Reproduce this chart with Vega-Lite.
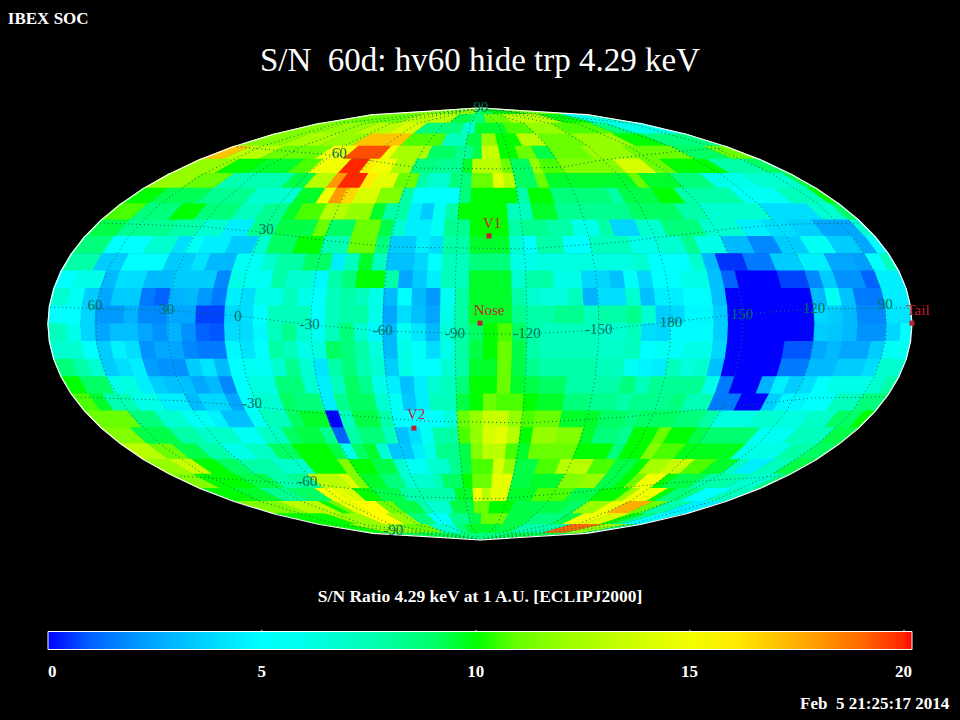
{"$schema":"https://vega.github.io/schema/vega-lite/v6.json","width":864,"height":432,"autosize":{"type":"none"},"padding":{"left":48,"top":108,"right":48,"bottom":180},"background":"#000000","view":{"stroke":null,"fill":null},"projection":{"type":"identity","reflectY":true,"scale":432,"translate":[432,216]},"datasets":{"edges":[{"lat":0,"s":0,"c":1},{"lat":6,"s":0.0821,"c":0.9966},{"lat":12,"s":0.1638,"c":0.9865},{"lat":18,"s":0.2449,"c":0.9695},{"lat":24,"s":0.325,"c":0.9457},{"lat":30,"s":0.404,"c":0.9148},{"lat":36,"s":0.4812,"c":0.8766},{"lat":42,"s":0.556,"c":0.8312},{"lat":48,"s":0.6281,"c":0.7781},{"lat":54,"s":0.6958,"c":0.7182},{"lat":60,"s":0.7624,"c":0.6471},{"lat":66,"s":0.822,"c":0.5694},{"lat":72,"s":0.8795,"c":0.4759},{"lat":78,"s":0.9284,"c":0.3716},{"lat":84,"s":0.969,"c":0.247},{"lat":90,"s":1,"c":0}]},"layer":[{"data":{"values":[
{"lat":87,"lon0":-180,"lon1":-60,"sn":11.5},{"lat":87,"lon0":-60,"lon1":-12,"sn":12},{"lat":87,"lon0":-12,"lon1":0,"sn":8.7},{"lat":87,"lon0":0,"lon1":30,"sn":9.5},{"lat":87,"lon0":30,"lon1":90,"sn":10},{"lat":87,"lon0":90,"lon1":180,"sn":11},
{"lat":81,"lon0":-180,"lon1":-96,"sn":11},{"lat":81,"lon0":-96,"lon1":-36,"sn":13},{"lat":81,"lon0":-36,"lon1":-12,"sn":9.5},{"lat":81,"lon0":-12,"lon1":6,"sn":8.7},{"lat":81,"lon0":6,"lon1":36,"sn":11},{"lat":81,"lon0":36,"lon1":96,"sn":13},{"lat":81,"lon0":96,"lon1":132,"sn":10},{"lat":81,"lon0":132,"lon1":168,"sn":6},{"lat":81,"lon0":168,"lon1":180,"sn":7.8},
{"lat":75,"lon0":-180,"lon1":-150,"sn":11.5},{"lat":75,"lon0":-150,"lon1":-114,"sn":12},{"lat":75,"lon0":-114,"lon1":-84,"sn":13},{"lat":75,"lon0":-84,"lon1":-60,"sn":14},{"lat":75,"lon0":-60,"lon1":-18,"sn":8.7},{"lat":75,"lon0":-18,"lon1":-6,"sn":6.8},{"lat":75,"lon0":-6,"lon1":24,"sn":9.8},{"lat":75,"lon0":24,"lon1":48,"sn":10.5},{"lat":75,"lon0":48,"lon1":78,"sn":12},{"lat":75,"lon0":78,"lon1":120,"sn":10.5},{"lat":75,"lon0":120,"lon1":138,"sn":8.7},{"lat":75,"lon0":138,"lon1":180,"sn":6},
{"lat":69,"lon0":-180,"lon1":-150,"sn":11.5},{"lat":69,"lon0":-150,"lon1":-120,"sn":12.5},{"lat":69,"lon0":-120,"lon1":-96,"sn":12},{"lat":69,"lon0":-96,"lon1":-60,"sn":17},{"lat":69,"lon0":-60,"lon1":-30,"sn":10.5},{"lat":69,"lon0":-30,"lon1":-12,"sn":7.3},{"lat":69,"lon0":-12,"lon1":0,"sn":9.5},{"lat":69,"lon0":0,"lon1":12,"sn":12},{"lat":69,"lon0":12,"lon1":30,"sn":10},{"lat":69,"lon0":30,"lon1":48,"sn":13},{"lat":69,"lon0":48,"lon1":78,"sn":11},{"lat":69,"lon0":78,"lon1":114,"sn":12},{"lat":69,"lon0":114,"lon1":138,"sn":10},{"lat":69,"lon0":138,"lon1":180,"sn":8.7},
{"lat":63,"lon0":-180,"lon1":-168,"sn":17},{"lat":63,"lon0":-168,"lon1":-144,"sn":13},{"lat":63,"lon0":-144,"lon1":-108,"sn":11},{"lat":63,"lon0":-108,"lon1":-90,"sn":15},{"lat":63,"lon0":-90,"lon1":-66,"sn":19.5},{"lat":63,"lon0":-66,"lon1":-60,"sn":15},{"lat":63,"lon0":-60,"lon1":-36,"sn":12.5},{"lat":63,"lon0":-36,"lon1":-18,"sn":9.1},{"lat":63,"lon0":-18,"lon1":-6,"sn":8.3},{"lat":63,"lon0":-6,"lon1":0,"sn":9.5},{"lat":63,"lon0":0,"lon1":12,"sn":13.5},{"lat":63,"lon0":12,"lon1":24,"sn":10},{"lat":63,"lon0":24,"lon1":36,"sn":11},{"lat":63,"lon0":36,"lon1":48,"sn":9.5},{"lat":63,"lon0":48,"lon1":72,"sn":11},{"lat":63,"lon0":72,"lon1":102,"sn":12},{"lat":63,"lon0":102,"lon1":138,"sn":11},{"lat":63,"lon0":138,"lon1":162,"sn":9.1},{"lat":63,"lon0":162,"lon1":180,"sn":11},
{"lat":57,"lon0":-180,"lon1":-156,"sn":12},{"lat":57,"lon0":-156,"lon1":-138,"sn":10},{"lat":57,"lon0":-138,"lon1":-114,"sn":9.8},{"lat":57,"lon0":-114,"lon1":-102,"sn":10.5},{"lat":57,"lon0":-102,"lon1":-84,"sn":15},{"lat":57,"lon0":-84,"lon1":-72,"sn":20},{"lat":57,"lon0":-72,"lon1":-66,"sn":16},{"lat":57,"lon0":-66,"lon1":-54,"sn":15},{"lat":57,"lon0":-54,"lon1":-42,"sn":12.5},{"lat":57,"lon0":-42,"lon1":-30,"sn":8.7},{"lat":57,"lon0":-30,"lon1":-12,"sn":8.3},{"lat":57,"lon0":-12,"lon1":-6,"sn":9.8},{"lat":57,"lon0":-6,"lon1":12,"sn":13},{"lat":57,"lon0":12,"lon1":18,"sn":11},{"lat":57,"lon0":18,"lon1":30,"sn":9.1},{"lat":57,"lon0":30,"lon1":36,"sn":12},{"lat":57,"lon0":36,"lon1":48,"sn":10.5},{"lat":57,"lon0":48,"lon1":84,"sn":11.5},{"lat":57,"lon0":84,"lon1":102,"sn":14},{"lat":57,"lon0":102,"lon1":114,"sn":11},{"lat":57,"lon0":114,"lon1":144,"sn":10},{"lat":57,"lon0":144,"lon1":168,"sn":7.8},{"lat":57,"lon0":168,"lon1":180,"sn":9.1},
{"lat":51,"lon0":-180,"lon1":-162,"sn":12},{"lat":51,"lon0":-162,"lon1":-144,"sn":11},{"lat":51,"lon0":-144,"lon1":-108,"sn":7.6},{"lat":51,"lon0":-108,"lon1":-96,"sn":9.5},{"lat":51,"lon0":-96,"lon1":-84,"sn":13},{"lat":51,"lon0":-84,"lon1":-78,"sn":18},{"lat":51,"lon0":-78,"lon1":-66,"sn":20},{"lat":51,"lon0":-66,"lon1":-60,"sn":16},{"lat":51,"lon0":-60,"lon1":-48,"sn":14.5},{"lat":51,"lon0":-48,"lon1":-36,"sn":11},{"lat":51,"lon0":-36,"lon1":-30,"sn":7.8},{"lat":51,"lon0":-30,"lon1":-18,"sn":6.8},{"lat":51,"lon0":-18,"lon1":-6,"sn":8.7},{"lat":51,"lon0":-6,"lon1":6,"sn":11},{"lat":51,"lon0":6,"lon1":12,"sn":14.5},{"lat":51,"lon0":12,"lon1":18,"sn":13},{"lat":51,"lon0":18,"lon1":30,"sn":9.1},{"lat":51,"lon0":30,"lon1":36,"sn":11},{"lat":51,"lon0":36,"lon1":84,"sn":9.8},{"lat":51,"lon0":84,"lon1":90,"sn":11},{"lat":51,"lon0":90,"lon1":108,"sn":9.8},{"lat":51,"lon0":108,"lon1":126,"sn":8.7},{"lat":51,"lon0":126,"lon1":150,"sn":6},{"lat":51,"lon0":150,"lon1":174,"sn":6.8},{"lat":51,"lon0":174,"lon1":180,"sn":9.5},
{"lat":45,"lon0":-180,"lon1":-168,"sn":10},{"lat":45,"lon0":-168,"lon1":-144,"sn":9.3},{"lat":45,"lon0":-144,"lon1":-120,"sn":8.3},{"lat":45,"lon0":-120,"lon1":-96,"sn":6.8},{"lat":45,"lon0":-96,"lon1":-84,"sn":9.8},{"lat":45,"lon0":-84,"lon1":-78,"sn":15},{"lat":45,"lon0":-78,"lon1":-72,"sn":18},{"lat":45,"lon0":-72,"lon1":-66,"sn":16.5},{"lat":45,"lon0":-66,"lon1":-54,"sn":14},{"lat":45,"lon0":-54,"lon1":-42,"sn":11.5},{"lat":45,"lon0":-42,"lon1":-36,"sn":7.8},{"lat":45,"lon0":-36,"lon1":-12,"sn":5},{"lat":45,"lon0":-12,"lon1":-6,"sn":8.7},{"lat":45,"lon0":-6,"lon1":18,"sn":10},{"lat":45,"lon0":18,"lon1":24,"sn":7.8},{"lat":45,"lon0":24,"lon1":36,"sn":10},{"lat":45,"lon0":36,"lon1":66,"sn":8.7},{"lat":45,"lon0":66,"lon1":72,"sn":7.8},{"lat":45,"lon0":72,"lon1":90,"sn":9.5},{"lat":45,"lon0":90,"lon1":102,"sn":10},{"lat":45,"lon0":102,"lon1":132,"sn":7.8},{"lat":45,"lon0":132,"lon1":156,"sn":5.5},{"lat":45,"lon0":156,"lon1":174,"sn":7.3},{"lat":45,"lon0":174,"lon1":180,"sn":10},
{"lat":39,"lon0":-180,"lon1":-168,"sn":10.5},{"lat":39,"lon0":-168,"lon1":-150,"sn":8.7},{"lat":39,"lon0":-150,"lon1":-138,"sn":10},{"lat":39,"lon0":-138,"lon1":-120,"sn":8.7},{"lat":39,"lon0":-120,"lon1":-108,"sn":7.3},{"lat":39,"lon0":-108,"lon1":-96,"sn":8.3},{"lat":39,"lon0":-96,"lon1":-90,"sn":9.8},{"lat":39,"lon0":-90,"lon1":-78,"sn":10.5},{"lat":39,"lon0":-78,"lon1":-66,"sn":12.8},{"lat":39,"lon0":-66,"lon1":-54,"sn":12},{"lat":39,"lon0":-54,"lon1":-48,"sn":9.8},{"lat":39,"lon0":-48,"lon1":-36,"sn":7.8},{"lat":39,"lon0":-36,"lon1":-30,"sn":4.5},{"lat":39,"lon0":-30,"lon1":-24,"sn":3.5},{"lat":39,"lon0":-24,"lon1":-18,"sn":5.5},{"lat":39,"lon0":-18,"lon1":-12,"sn":7.8},{"lat":39,"lon0":-12,"lon1":12,"sn":10},{"lat":39,"lon0":12,"lon1":24,"sn":7.3},{"lat":39,"lon0":24,"lon1":36,"sn":9.8},{"lat":39,"lon0":36,"lon1":72,"sn":8.3},{"lat":39,"lon0":72,"lon1":96,"sn":9.1},{"lat":39,"lon0":96,"lon1":108,"sn":7.8},{"lat":39,"lon0":108,"lon1":138,"sn":6.8},{"lat":39,"lon0":138,"lon1":162,"sn":4},{"lat":39,"lon0":162,"lon1":174,"sn":6.8},{"lat":39,"lon0":174,"lon1":180,"sn":9.1},
{"lat":33,"lon0":-180,"lon1":-168,"sn":9.5},{"lat":33,"lon0":-168,"lon1":-144,"sn":8.3},{"lat":33,"lon0":-144,"lon1":-132,"sn":7.8},{"lat":33,"lon0":-132,"lon1":-120,"sn":6.8},{"lat":33,"lon0":-120,"lon1":-108,"sn":4.5},{"lat":33,"lon0":-108,"lon1":-96,"sn":8.3},{"lat":33,"lon0":-96,"lon1":-78,"sn":9.5},{"lat":33,"lon0":-78,"lon1":-72,"sn":11},{"lat":33,"lon0":-72,"lon1":-60,"sn":9.1},{"lat":33,"lon0":-60,"lon1":-48,"sn":11},{"lat":33,"lon0":-48,"lon1":-42,"sn":9.5},{"lat":33,"lon0":-42,"lon1":-36,"sn":6.8},{"lat":33,"lon0":-36,"lon1":-24,"sn":4.5},{"lat":33,"lon0":-24,"lon1":-18,"sn":5.5},{"lat":33,"lon0":-18,"lon1":-6,"sn":8.3},{"lat":33,"lon0":-6,"lon1":12,"sn":10},{"lat":33,"lon0":12,"lon1":18,"sn":7.8},{"lat":33,"lon0":18,"lon1":30,"sn":8.3},{"lat":33,"lon0":30,"lon1":42,"sn":7.8},{"lat":33,"lon0":42,"lon1":54,"sn":6},{"lat":33,"lon0":54,"lon1":60,"sn":7.8},{"lat":33,"lon0":60,"lon1":72,"sn":3.7},{"lat":33,"lon0":72,"lon1":84,"sn":6.8},{"lat":33,"lon0":84,"lon1":102,"sn":8.7},{"lat":33,"lon0":102,"lon1":120,"sn":6.8},{"lat":33,"lon0":120,"lon1":132,"sn":4.5},{"lat":33,"lon0":132,"lon1":144,"sn":4},{"lat":33,"lon0":144,"lon1":156,"sn":3.6},{"lat":33,"lon0":156,"lon1":174,"sn":2.5},{"lat":33,"lon0":174,"lon1":180,"sn":6.8},
{"lat":27,"lon0":-180,"lon1":-168,"sn":8.7},{"lat":27,"lon0":-168,"lon1":-150,"sn":5},{"lat":27,"lon0":-150,"lon1":-138,"sn":6.8},{"lat":27,"lon0":-138,"lon1":-132,"sn":4},{"lat":27,"lon0":-132,"lon1":-126,"sn":5.5},{"lat":27,"lon0":-126,"lon1":-114,"sn":4.5},{"lat":27,"lon0":-114,"lon1":-102,"sn":3.5},{"lat":27,"lon0":-102,"lon1":-96,"sn":6.8},{"lat":27,"lon0":-96,"lon1":-84,"sn":9.1},{"lat":27,"lon0":-84,"lon1":-72,"sn":10},{"lat":27,"lon0":-72,"lon1":-60,"sn":7.6},{"lat":27,"lon0":-60,"lon1":-48,"sn":11},{"lat":27,"lon0":-48,"lon1":-42,"sn":8.7},{"lat":27,"lon0":-42,"lon1":-30,"sn":3.5},{"lat":27,"lon0":-30,"lon1":-24,"sn":4.5},{"lat":27,"lon0":-24,"lon1":-18,"sn":4},{"lat":27,"lon0":-18,"lon1":-6,"sn":7.8},{"lat":27,"lon0":-6,"lon1":12,"sn":9.8},{"lat":27,"lon0":12,"lon1":18,"sn":6.8},{"lat":27,"lon0":18,"lon1":24,"sn":5},{"lat":27,"lon0":24,"lon1":36,"sn":7.8},{"lat":27,"lon0":36,"lon1":48,"sn":5},{"lat":27,"lon0":48,"lon1":66,"sn":7.3},{"lat":27,"lon0":66,"lon1":78,"sn":6},{"lat":27,"lon0":78,"lon1":90,"sn":6.8},{"lat":27,"lon0":90,"lon1":96,"sn":8.3},{"lat":27,"lon0":96,"lon1":108,"sn":6},{"lat":27,"lon0":108,"lon1":120,"sn":3},{"lat":27,"lon0":120,"lon1":132,"sn":1.8},{"lat":27,"lon0":132,"lon1":144,"sn":3.5},{"lat":27,"lon0":144,"lon1":156,"sn":5.5},{"lat":27,"lon0":156,"lon1":168,"sn":3.5},{"lat":27,"lon0":168,"lon1":174,"sn":2.5},{"lat":27,"lon0":174,"lon1":180,"sn":5},
{"lat":21,"lon0":-180,"lon1":-168,"sn":7.8},{"lat":21,"lon0":-168,"lon1":-156,"sn":3.5},{"lat":21,"lon0":-156,"lon1":-138,"sn":5},{"lat":21,"lon0":-138,"lon1":-126,"sn":3.5},{"lat":21,"lon0":-126,"lon1":-120,"sn":4.2},{"lat":21,"lon0":-120,"lon1":-108,"sn":3},{"lat":21,"lon0":-108,"lon1":-96,"sn":5.5},{"lat":21,"lon0":-96,"lon1":-90,"sn":6.8},{"lat":21,"lon0":-90,"lon1":-78,"sn":7.8},{"lat":21,"lon0":-78,"lon1":-66,"sn":9.1},{"lat":21,"lon0":-66,"lon1":-60,"sn":4.5},{"lat":21,"lon0":-60,"lon1":-54,"sn":7.3},{"lat":21,"lon0":-54,"lon1":-48,"sn":9.8},{"lat":21,"lon0":-48,"lon1":-42,"sn":7.3},{"lat":21,"lon0":-42,"lon1":-30,"sn":3.2},{"lat":21,"lon0":-30,"lon1":-24,"sn":3.8},{"lat":21,"lon0":-24,"lon1":-18,"sn":5},{"lat":21,"lon0":-18,"lon1":-6,"sn":7.3},{"lat":21,"lon0":-6,"lon1":12,"sn":8.7},{"lat":21,"lon0":12,"lon1":24,"sn":6},{"lat":21,"lon0":24,"lon1":66,"sn":6.3},{"lat":21,"lon0":66,"lon1":72,"sn":6.8},{"lat":21,"lon0":72,"lon1":90,"sn":5},{"lat":21,"lon0":90,"lon1":96,"sn":6.8},{"lat":21,"lon0":96,"lon1":102,"sn":3},{"lat":21,"lon0":102,"lon1":114,"sn":0.3},{"lat":21,"lon0":114,"lon1":126,"sn":1.5},{"lat":21,"lon0":126,"lon1":138,"sn":3.5},{"lat":21,"lon0":138,"lon1":150,"sn":4.5},{"lat":21,"lon0":150,"lon1":162,"sn":2.5},{"lat":21,"lon0":162,"lon1":168,"sn":2.3},{"lat":21,"lon0":168,"lon1":174,"sn":5},{"lat":21,"lon0":174,"lon1":180,"sn":7.3},
{"lat":15,"lon0":-180,"lon1":-174,"sn":5},{"lat":15,"lon0":-174,"lon1":-162,"sn":6},{"lat":15,"lon0":-162,"lon1":-156,"sn":3},{"lat":15,"lon0":-156,"lon1":-144,"sn":4},{"lat":15,"lon0":-144,"lon1":-132,"sn":3},{"lat":15,"lon0":-132,"lon1":-114,"sn":3.5},{"lat":15,"lon0":-114,"lon1":-108,"sn":1.8},{"lat":15,"lon0":-108,"lon1":-102,"sn":6},{"lat":15,"lon0":-102,"lon1":-90,"sn":5.5},{"lat":15,"lon0":-90,"lon1":-84,"sn":7.8},{"lat":15,"lon0":-84,"lon1":-72,"sn":6.8},{"lat":15,"lon0":-72,"lon1":-66,"sn":4.8},{"lat":15,"lon0":-66,"lon1":-60,"sn":7.8},{"lat":15,"lon0":-60,"lon1":-54,"sn":8.7},{"lat":15,"lon0":-54,"lon1":-42,"sn":10},{"lat":15,"lon0":-42,"lon1":-36,"sn":7.8},{"lat":15,"lon0":-36,"lon1":-30,"sn":2.5},{"lat":15,"lon0":-30,"lon1":-24,"sn":3.5},{"lat":15,"lon0":-24,"lon1":-18,"sn":4.5},{"lat":15,"lon0":-18,"lon1":-6,"sn":7.3},{"lat":15,"lon0":-6,"lon1":12,"sn":9.8},{"lat":15,"lon0":12,"lon1":18,"sn":6.8},{"lat":15,"lon0":18,"lon1":30,"sn":7.8},{"lat":15,"lon0":30,"lon1":42,"sn":6},{"lat":15,"lon0":42,"lon1":54,"sn":3.8},{"lat":15,"lon0":54,"lon1":60,"sn":3.2},{"lat":15,"lon0":60,"lon1":66,"sn":5.3},{"lat":15,"lon0":66,"lon1":72,"sn":3.7},{"lat":15,"lon0":72,"lon1":84,"sn":5},{"lat":15,"lon0":84,"lon1":96,"sn":6},{"lat":15,"lon0":96,"lon1":102,"sn":3.2},{"lat":15,"lon0":102,"lon1":108,"sn":1},{"lat":15,"lon0":108,"lon1":126,"sn":0},{"lat":15,"lon0":126,"lon1":138,"sn":0.5},{"lat":15,"lon0":138,"lon1":144,"sn":1.8},{"lat":15,"lon0":144,"lon1":150,"sn":3.5},{"lat":15,"lon0":150,"lon1":162,"sn":2},{"lat":15,"lon0":162,"lon1":168,"sn":1},{"lat":15,"lon0":168,"lon1":180,"sn":4.5},
{"lat":9,"lon0":-180,"lon1":-174,"sn":6.8},{"lat":9,"lon0":-174,"lon1":-168,"sn":5.5},{"lat":9,"lon0":-168,"lon1":-162,"sn":3.5},{"lat":9,"lon0":-162,"lon1":-156,"sn":2.5},{"lat":9,"lon0":-156,"lon1":-144,"sn":3.5},{"lat":9,"lon0":-144,"lon1":-138,"sn":1.5},{"lat":9,"lon0":-138,"lon1":-132,"sn":1},{"lat":9,"lon0":-132,"lon1":-126,"sn":2.8},{"lat":9,"lon0":-126,"lon1":-120,"sn":3},{"lat":9,"lon0":-120,"lon1":-114,"sn":2.2},{"lat":9,"lon0":-114,"lon1":-108,"sn":1.5},{"lat":9,"lon0":-108,"lon1":-102,"sn":4.5},{"lat":9,"lon0":-102,"lon1":-96,"sn":4},{"lat":9,"lon0":-96,"lon1":-84,"sn":6},{"lat":9,"lon0":-84,"lon1":-78,"sn":7.3},{"lat":9,"lon0":-78,"lon1":-72,"sn":6},{"lat":9,"lon0":-72,"lon1":-66,"sn":5},{"lat":9,"lon0":-66,"lon1":-60,"sn":7.3},{"lat":9,"lon0":-60,"lon1":-54,"sn":7.8},{"lat":9,"lon0":-54,"lon1":-48,"sn":7.3},{"lat":9,"lon0":-48,"lon1":-42,"sn":6},{"lat":9,"lon0":-42,"lon1":-36,"sn":3},{"lat":9,"lon0":-36,"lon1":-30,"sn":5},{"lat":9,"lon0":-30,"lon1":-24,"sn":3},{"lat":9,"lon0":-24,"lon1":-18,"sn":2.2},{"lat":9,"lon0":-18,"lon1":-12,"sn":5.5},{"lat":9,"lon0":-12,"lon1":-6,"sn":7.8},{"lat":9,"lon0":-6,"lon1":12,"sn":9.8},{"lat":9,"lon0":12,"lon1":18,"sn":7.8},{"lat":9,"lon0":18,"lon1":24,"sn":6.8},{"lat":9,"lon0":24,"lon1":36,"sn":6.5},{"lat":9,"lon0":36,"lon1":42,"sn":7.3},{"lat":9,"lon0":42,"lon1":48,"sn":2.8},{"lat":9,"lon0":48,"lon1":60,"sn":4},{"lat":9,"lon0":60,"lon1":66,"sn":6.8},{"lat":9,"lon0":66,"lon1":72,"sn":3.2},{"lat":9,"lon0":72,"lon1":84,"sn":4.5},{"lat":9,"lon0":84,"lon1":96,"sn":5},{"lat":9,"lon0":96,"lon1":102,"sn":3.2},{"lat":9,"lon0":102,"lon1":138,"sn":0},{"lat":9,"lon0":138,"lon1":144,"sn":3},{"lat":9,"lon0":144,"lon1":150,"sn":5.5},{"lat":9,"lon0":150,"lon1":156,"sn":3.2},{"lat":9,"lon0":156,"lon1":168,"sn":1.5},{"lat":9,"lon0":168,"lon1":180,"sn":4.5},
{"lat":3,"lon0":-180,"lon1":-168,"sn":5},{"lat":3,"lon0":-168,"lon1":-162,"sn":3.8},{"lat":3,"lon0":-162,"lon1":-150,"sn":2.2},{"lat":3,"lon0":-150,"lon1":-144,"sn":2.8},{"lat":3,"lon0":-144,"lon1":-132,"sn":1.8},{"lat":3,"lon0":-132,"lon1":-120,"sn":2.5},{"lat":3,"lon0":-120,"lon1":-108,"sn":0.5},{"lat":3,"lon0":-108,"lon1":-102,"sn":3.8},{"lat":3,"lon0":-102,"lon1":-96,"sn":4},{"lat":3,"lon0":-96,"lon1":-90,"sn":5},{"lat":3,"lon0":-90,"lon1":-72,"sn":7.3},{"lat":3,"lon0":-72,"lon1":-66,"sn":5},{"lat":3,"lon0":-66,"lon1":-60,"sn":7.3},{"lat":3,"lon0":-60,"lon1":-48,"sn":7.8},{"lat":3,"lon0":-48,"lon1":-42,"sn":6},{"lat":3,"lon0":-42,"lon1":-36,"sn":2.5},{"lat":3,"lon0":-36,"lon1":-30,"sn":4},{"lat":3,"lon0":-30,"lon1":-24,"sn":3.2},{"lat":3,"lon0":-24,"lon1":-18,"sn":2.5},{"lat":3,"lon0":-18,"lon1":-12,"sn":6},{"lat":3,"lon0":-12,"lon1":-6,"sn":7.8},{"lat":3,"lon0":-6,"lon1":12,"sn":9.8},{"lat":3,"lon0":12,"lon1":18,"sn":8.3},{"lat":3,"lon0":18,"lon1":30,"sn":7.8},{"lat":3,"lon0":30,"lon1":42,"sn":8.3},{"lat":3,"lon0":42,"lon1":48,"sn":7.3},{"lat":3,"lon0":48,"lon1":60,"sn":7.8},{"lat":3,"lon0":60,"lon1":66,"sn":8.3},{"lat":3,"lon0":66,"lon1":72,"sn":6.8},{"lat":3,"lon0":72,"lon1":78,"sn":3.5},{"lat":3,"lon0":78,"lon1":84,"sn":3.8},{"lat":3,"lon0":84,"lon1":96,"sn":4.8},{"lat":3,"lon0":96,"lon1":102,"sn":3.5},{"lat":3,"lon0":102,"lon1":138,"sn":0},{"lat":3,"lon0":138,"lon1":144,"sn":3.8},{"lat":3,"lon0":144,"lon1":150,"sn":3.5},{"lat":3,"lon0":150,"lon1":156,"sn":3},{"lat":3,"lon0":156,"lon1":168,"sn":1.8},{"lat":3,"lon0":168,"lon1":180,"sn":4.2},
{"lat":-3,"lon0":-180,"lon1":-174,"sn":7.3},{"lat":-3,"lon0":-174,"lon1":-168,"sn":6},{"lat":-3,"lon0":-168,"lon1":-162,"sn":3.8},{"lat":-3,"lon0":-162,"lon1":-156,"sn":2.5},{"lat":-3,"lon0":-156,"lon1":-144,"sn":3.1},{"lat":-3,"lon0":-144,"lon1":-138,"sn":2.5},{"lat":-3,"lon0":-138,"lon1":-132,"sn":2},{"lat":-3,"lon0":-132,"lon1":-126,"sn":2.8},{"lat":-3,"lon0":-126,"lon1":-120,"sn":2},{"lat":-3,"lon0":-120,"lon1":-114,"sn":1},{"lat":-3,"lon0":-114,"lon1":-108,"sn":0.8},{"lat":-3,"lon0":-108,"lon1":-96,"sn":3.9},{"lat":-3,"lon0":-96,"lon1":-90,"sn":4.8},{"lat":-3,"lon0":-90,"lon1":-84,"sn":7.3},{"lat":-3,"lon0":-84,"lon1":-78,"sn":8.3},{"lat":-3,"lon0":-78,"lon1":-72,"sn":6.8},{"lat":-3,"lon0":-72,"lon1":-66,"sn":5.6},{"lat":-3,"lon0":-66,"lon1":-60,"sn":7.3},{"lat":-3,"lon0":-60,"lon1":-54,"sn":8.7},{"lat":-3,"lon0":-54,"lon1":-48,"sn":6.8},{"lat":-3,"lon0":-48,"lon1":-42,"sn":4.8},{"lat":-3,"lon0":-42,"lon1":-36,"sn":3},{"lat":-3,"lon0":-36,"lon1":-30,"sn":5.5},{"lat":-3,"lon0":-30,"lon1":-24,"sn":4.3},{"lat":-3,"lon0":-24,"lon1":-18,"sn":3},{"lat":-3,"lon0":-18,"lon1":-12,"sn":6.5},{"lat":-3,"lon0":-12,"lon1":-6,"sn":7.8},{"lat":-3,"lon0":-6,"lon1":0,"sn":9.1},{"lat":-3,"lon0":0,"lon1":6,"sn":10},{"lat":-3,"lon0":6,"lon1":12,"sn":10.5},{"lat":-3,"lon0":12,"lon1":18,"sn":9.1},{"lat":-3,"lon0":18,"lon1":24,"sn":7.8},{"lat":-3,"lon0":24,"lon1":48,"sn":7.3},{"lat":-3,"lon0":48,"lon1":60,"sn":6.8},{"lat":-3,"lon0":60,"lon1":66,"sn":7.3},{"lat":-3,"lon0":66,"lon1":72,"sn":4},{"lat":-3,"lon0":72,"lon1":78,"sn":3.8},{"lat":-3,"lon0":78,"lon1":96,"sn":4.9},{"lat":-3,"lon0":96,"lon1":102,"sn":3.5},{"lat":-3,"lon0":102,"lon1":138,"sn":0},{"lat":-3,"lon0":138,"lon1":144,"sn":3.5},{"lat":-3,"lon0":144,"lon1":150,"sn":3.3},{"lat":-3,"lon0":150,"lon1":156,"sn":3},{"lat":-3,"lon0":156,"lon1":168,"sn":2},{"lat":-3,"lon0":168,"lon1":174,"sn":3.8},{"lat":-3,"lon0":174,"lon1":180,"sn":5},
{"lat":-9,"lon0":-180,"lon1":-168,"sn":6.8},{"lat":-9,"lon0":-168,"lon1":-162,"sn":5},{"lat":-9,"lon0":-162,"lon1":-156,"sn":3.5},{"lat":-9,"lon0":-156,"lon1":-150,"sn":4.6},{"lat":-9,"lon0":-150,"lon1":-144,"sn":4},{"lat":-9,"lon0":-144,"lon1":-138,"sn":2},{"lat":-9,"lon0":-138,"lon1":-126,"sn":2.5},{"lat":-9,"lon0":-126,"lon1":-120,"sn":1.8},{"lat":-9,"lon0":-120,"lon1":-108,"sn":1.5},{"lat":-9,"lon0":-108,"lon1":-102,"sn":4.8},{"lat":-9,"lon0":-102,"lon1":-96,"sn":4.2},{"lat":-9,"lon0":-96,"lon1":-90,"sn":5},{"lat":-9,"lon0":-90,"lon1":-84,"sn":7.8},{"lat":-9,"lon0":-84,"lon1":-78,"sn":7.3},{"lat":-9,"lon0":-78,"lon1":-72,"sn":6},{"lat":-9,"lon0":-72,"lon1":-66,"sn":6.3},{"lat":-9,"lon0":-66,"lon1":-60,"sn":9.1},{"lat":-9,"lon0":-60,"lon1":-54,"sn":8.7},{"lat":-9,"lon0":-54,"lon1":-48,"sn":7.8},{"lat":-9,"lon0":-48,"lon1":-42,"sn":6.5},{"lat":-9,"lon0":-42,"lon1":-36,"sn":3},{"lat":-9,"lon0":-36,"lon1":-30,"sn":6},{"lat":-9,"lon0":-30,"lon1":-24,"sn":5.2},{"lat":-9,"lon0":-24,"lon1":-18,"sn":4},{"lat":-9,"lon0":-18,"lon1":-12,"sn":6},{"lat":-9,"lon0":-12,"lon1":-6,"sn":7.8},{"lat":-9,"lon0":-6,"lon1":0,"sn":9.5},{"lat":-9,"lon0":0,"lon1":6,"sn":10},{"lat":-9,"lon0":6,"lon1":12,"sn":11},{"lat":-9,"lon0":12,"lon1":18,"sn":9.5},{"lat":-9,"lon0":18,"lon1":24,"sn":7.8},{"lat":-9,"lon0":24,"lon1":48,"sn":7.3},{"lat":-9,"lon0":48,"lon1":60,"sn":7},{"lat":-9,"lon0":60,"lon1":66,"sn":7.3},{"lat":-9,"lon0":66,"lon1":72,"sn":5},{"lat":-9,"lon0":72,"lon1":78,"sn":5.5},{"lat":-9,"lon0":78,"lon1":84,"sn":5.2},{"lat":-9,"lon0":84,"lon1":96,"sn":6},{"lat":-9,"lon0":96,"lon1":102,"sn":3.8},{"lat":-9,"lon0":102,"lon1":126,"sn":0},{"lat":-9,"lon0":126,"lon1":138,"sn":0.8},{"lat":-9,"lon0":138,"lon1":144,"sn":2.5},{"lat":-9,"lon0":144,"lon1":150,"sn":3},{"lat":-9,"lon0":150,"lon1":162,"sn":2.5},{"lat":-9,"lon0":162,"lon1":168,"sn":3.5},{"lat":-9,"lon0":168,"lon1":180,"sn":5.5},
{"lat":-15,"lon0":-180,"lon1":-174,"sn":8.7},{"lat":-15,"lon0":-174,"lon1":-168,"sn":7.8},{"lat":-15,"lon0":-168,"lon1":-162,"sn":6.8},{"lat":-15,"lon0":-162,"lon1":-156,"sn":3.5},{"lat":-15,"lon0":-156,"lon1":-150,"sn":4},{"lat":-15,"lon0":-150,"lon1":-144,"sn":4.5},{"lat":-15,"lon0":-144,"lon1":-138,"sn":2.3},{"lat":-15,"lon0":-138,"lon1":-126,"sn":2},{"lat":-15,"lon0":-126,"lon1":-120,"sn":3.5},{"lat":-15,"lon0":-120,"lon1":-114,"sn":4.2},{"lat":-15,"lon0":-114,"lon1":-108,"sn":3},{"lat":-15,"lon0":-108,"lon1":-102,"sn":5},{"lat":-15,"lon0":-102,"lon1":-90,"sn":5.5},{"lat":-15,"lon0":-90,"lon1":-84,"sn":6.8},{"lat":-15,"lon0":-84,"lon1":-78,"sn":8.3},{"lat":-15,"lon0":-78,"lon1":-72,"sn":6.8},{"lat":-15,"lon0":-72,"lon1":-66,"sn":4.2},{"lat":-15,"lon0":-66,"lon1":-60,"sn":7.8},{"lat":-15,"lon0":-60,"lon1":-54,"sn":8.7},{"lat":-15,"lon0":-54,"lon1":-48,"sn":7.6},{"lat":-15,"lon0":-48,"lon1":-42,"sn":6.8},{"lat":-15,"lon0":-42,"lon1":-36,"sn":3.5},{"lat":-15,"lon0":-36,"lon1":-30,"sn":6},{"lat":-15,"lon0":-30,"lon1":-18,"sn":5},{"lat":-15,"lon0":-18,"lon1":-12,"sn":6.8},{"lat":-15,"lon0":-12,"lon1":-6,"sn":7.8},{"lat":-15,"lon0":-6,"lon1":6,"sn":9.8},{"lat":-15,"lon0":6,"lon1":12,"sn":11},{"lat":-15,"lon0":12,"lon1":18,"sn":9.5},{"lat":-15,"lon0":18,"lon1":24,"sn":8.3},{"lat":-15,"lon0":24,"lon1":48,"sn":7.8},{"lat":-15,"lon0":48,"lon1":60,"sn":7.3},{"lat":-15,"lon0":60,"lon1":66,"sn":5.6},{"lat":-15,"lon0":66,"lon1":72,"sn":4.7},{"lat":-15,"lon0":72,"lon1":78,"sn":4.4},{"lat":-15,"lon0":78,"lon1":84,"sn":7.3},{"lat":-15,"lon0":84,"lon1":90,"sn":6.5},{"lat":-15,"lon0":90,"lon1":96,"sn":6.8},{"lat":-15,"lon0":96,"lon1":102,"sn":3.2},{"lat":-15,"lon0":102,"lon1":126,"sn":0},{"lat":-15,"lon0":126,"lon1":138,"sn":1.5},{"lat":-15,"lon0":138,"lon1":150,"sn":3},{"lat":-15,"lon0":150,"lon1":162,"sn":3.5},{"lat":-15,"lon0":162,"lon1":168,"sn":4},{"lat":-15,"lon0":168,"lon1":180,"sn":6.8},
{"lat":-21,"lon0":-180,"lon1":-174,"sn":10},{"lat":-21,"lon0":-174,"lon1":-162,"sn":9.1},{"lat":-21,"lon0":-162,"lon1":-156,"sn":6},{"lat":-21,"lon0":-156,"lon1":-150,"sn":6.2},{"lat":-21,"lon0":-150,"lon1":-144,"sn":4.5},{"lat":-21,"lon0":-144,"lon1":-138,"sn":3.5},{"lat":-21,"lon0":-138,"lon1":-126,"sn":3.2},{"lat":-21,"lon0":-126,"lon1":-120,"sn":2.5},{"lat":-21,"lon0":-120,"lon1":-114,"sn":3},{"lat":-21,"lon0":-114,"lon1":-108,"sn":1.8},{"lat":-21,"lon0":-108,"lon1":-102,"sn":5},{"lat":-21,"lon0":-102,"lon1":-90,"sn":6.3},{"lat":-21,"lon0":-90,"lon1":-78,"sn":8.7},{"lat":-21,"lon0":-78,"lon1":-72,"sn":6.8},{"lat":-21,"lon0":-72,"lon1":-66,"sn":4.5},{"lat":-21,"lon0":-66,"lon1":-60,"sn":7.3},{"lat":-21,"lon0":-60,"lon1":-54,"sn":9.1},{"lat":-21,"lon0":-54,"lon1":-48,"sn":8.3},{"lat":-21,"lon0":-48,"lon1":-42,"sn":6},{"lat":-21,"lon0":-42,"lon1":-36,"sn":4.5},{"lat":-21,"lon0":-36,"lon1":-30,"sn":3.2},{"lat":-21,"lon0":-30,"lon1":-24,"sn":4.5},{"lat":-21,"lon0":-24,"lon1":-18,"sn":6.8},{"lat":-21,"lon0":-18,"lon1":-12,"sn":7.3},{"lat":-21,"lon0":-12,"lon1":-6,"sn":8.7},{"lat":-21,"lon0":-6,"lon1":6,"sn":10},{"lat":-21,"lon0":6,"lon1":12,"sn":11},{"lat":-21,"lon0":12,"lon1":18,"sn":9.8},{"lat":-21,"lon0":18,"lon1":24,"sn":9.5},{"lat":-21,"lon0":24,"lon1":36,"sn":9.1},{"lat":-21,"lon0":36,"lon1":60,"sn":7.8},{"lat":-21,"lon0":60,"lon1":66,"sn":8.7},{"lat":-21,"lon0":66,"lon1":72,"sn":7.3},{"lat":-21,"lon0":72,"lon1":96,"sn":8.2},{"lat":-21,"lon0":96,"lon1":102,"sn":6},{"lat":-21,"lon0":102,"lon1":108,"sn":1.5},{"lat":-21,"lon0":108,"lon1":120,"sn":0},{"lat":-21,"lon0":120,"lon1":126,"sn":2.8},{"lat":-21,"lon0":126,"lon1":132,"sn":4.5},{"lat":-21,"lon0":132,"lon1":138,"sn":3.5},{"lat":-21,"lon0":138,"lon1":144,"sn":4},{"lat":-21,"lon0":144,"lon1":150,"sn":5},{"lat":-21,"lon0":150,"lon1":168,"sn":6},{"lat":-21,"lon0":168,"lon1":174,"sn":6.8},{"lat":-21,"lon0":174,"lon1":180,"sn":7.8},
{"lat":-27,"lon0":-180,"lon1":-174,"sn":10.5},{"lat":-27,"lon0":-174,"lon1":-168,"sn":9.8},{"lat":-27,"lon0":-168,"lon1":-156,"sn":7.6},{"lat":-27,"lon0":-156,"lon1":-144,"sn":6},{"lat":-27,"lon0":-144,"lon1":-132,"sn":4.5},{"lat":-27,"lon0":-132,"lon1":-126,"sn":3},{"lat":-27,"lon0":-126,"lon1":-114,"sn":3.8},{"lat":-27,"lon0":-114,"lon1":-108,"sn":2.5},{"lat":-27,"lon0":-108,"lon1":-102,"sn":5},{"lat":-27,"lon0":-102,"lon1":-90,"sn":6.8},{"lat":-27,"lon0":-90,"lon1":-84,"sn":9.1},{"lat":-27,"lon0":-84,"lon1":-72,"sn":8.7},{"lat":-27,"lon0":-72,"lon1":-66,"sn":4.5},{"lat":-27,"lon0":-66,"lon1":-60,"sn":8.3},{"lat":-27,"lon0":-60,"lon1":-48,"sn":9.1},{"lat":-27,"lon0":-48,"lon1":-42,"sn":6.8},{"lat":-27,"lon0":-42,"lon1":-36,"sn":5.5},{"lat":-27,"lon0":-36,"lon1":-30,"sn":3.4},{"lat":-27,"lon0":-30,"lon1":-24,"sn":4.5},{"lat":-27,"lon0":-24,"lon1":-12,"sn":7.3},{"lat":-27,"lon0":-12,"lon1":-6,"sn":9.5},{"lat":-27,"lon0":-6,"lon1":0,"sn":10},{"lat":-27,"lon0":0,"lon1":6,"sn":11},{"lat":-27,"lon0":6,"lon1":18,"sn":10.5},{"lat":-27,"lon0":18,"lon1":24,"sn":10},{"lat":-27,"lon0":24,"lon1":36,"sn":9.8},{"lat":-27,"lon0":36,"lon1":48,"sn":8.7},{"lat":-27,"lon0":48,"lon1":60,"sn":8.3},{"lat":-27,"lon0":60,"lon1":66,"sn":7.8},{"lat":-27,"lon0":66,"lon1":84,"sn":8.3},{"lat":-27,"lon0":84,"lon1":90,"sn":8.7},{"lat":-27,"lon0":90,"lon1":102,"sn":7.5},{"lat":-27,"lon0":102,"lon1":114,"sn":1.5},{"lat":-27,"lon0":114,"lon1":126,"sn":0},{"lat":-27,"lon0":126,"lon1":132,"sn":3.5},{"lat":-27,"lon0":132,"lon1":144,"sn":4.7},{"lat":-27,"lon0":144,"lon1":156,"sn":5},{"lat":-27,"lon0":156,"lon1":168,"sn":7.3},{"lat":-27,"lon0":168,"lon1":180,"sn":8.7},
{"lat":-33,"lon0":-180,"lon1":-162,"sn":11},{"lat":-33,"lon0":-162,"lon1":-150,"sn":8.7},{"lat":-33,"lon0":-150,"lon1":-138,"sn":6.8},{"lat":-33,"lon0":-138,"lon1":-126,"sn":5.5},{"lat":-33,"lon0":-126,"lon1":-120,"sn":4.6},{"lat":-33,"lon0":-120,"lon1":-108,"sn":3.2},{"lat":-33,"lon0":-108,"lon1":-102,"sn":5.5},{"lat":-33,"lon0":-102,"lon1":-90,"sn":7.3},{"lat":-33,"lon0":-90,"lon1":-84,"sn":9.1},{"lat":-33,"lon0":-84,"lon1":-72,"sn":9.8},{"lat":-33,"lon0":-72,"lon1":-66,"sn":0},{"lat":-33,"lon0":-66,"lon1":-60,"sn":7.3},{"lat":-33,"lon0":-60,"lon1":-48,"sn":9.5},{"lat":-33,"lon0":-48,"lon1":-42,"sn":7.8},{"lat":-33,"lon0":-42,"lon1":-18,"sn":5},{"lat":-33,"lon0":-18,"lon1":-12,"sn":6.5},{"lat":-33,"lon0":-12,"lon1":-6,"sn":11},{"lat":-33,"lon0":-6,"lon1":0,"sn":12},{"lat":-33,"lon0":0,"lon1":12,"sn":13.5},{"lat":-33,"lon0":12,"lon1":18,"sn":12},{"lat":-33,"lon0":18,"lon1":24,"sn":10.5},{"lat":-33,"lon0":24,"lon1":36,"sn":11},{"lat":-33,"lon0":36,"lon1":54,"sn":9.8},{"lat":-33,"lon0":54,"lon1":66,"sn":9.1},{"lat":-33,"lon0":66,"lon1":72,"sn":8.7},{"lat":-33,"lon0":72,"lon1":90,"sn":9.1},{"lat":-33,"lon0":90,"lon1":102,"sn":8.7},{"lat":-33,"lon0":102,"lon1":108,"sn":7.8},{"lat":-33,"lon0":108,"lon1":126,"sn":6.2},{"lat":-33,"lon0":126,"lon1":138,"sn":6.8},{"lat":-33,"lon0":138,"lon1":150,"sn":6.3},{"lat":-33,"lon0":150,"lon1":162,"sn":7},{"lat":-33,"lon0":162,"lon1":174,"sn":9.1},{"lat":-33,"lon0":174,"lon1":180,"sn":10},
{"lat":-39,"lon0":-180,"lon1":-168,"sn":11.5},{"lat":-39,"lon0":-168,"lon1":-150,"sn":9.5},{"lat":-39,"lon0":-150,"lon1":-138,"sn":7.8},{"lat":-39,"lon0":-138,"lon1":-120,"sn":7},{"lat":-39,"lon0":-120,"lon1":-108,"sn":5.5},{"lat":-39,"lon0":-108,"lon1":-96,"sn":7.1},{"lat":-39,"lon0":-96,"lon1":-90,"sn":9.1},{"lat":-39,"lon0":-90,"lon1":-78,"sn":9.5},{"lat":-39,"lon0":-78,"lon1":-72,"sn":8.3},{"lat":-39,"lon0":-72,"lon1":-66,"sn":1},{"lat":-39,"lon0":-66,"lon1":-60,"sn":7.8},{"lat":-39,"lon0":-60,"lon1":-48,"sn":8.7},{"lat":-39,"lon0":-48,"lon1":-42,"sn":7.3},{"lat":-39,"lon0":-42,"lon1":-36,"sn":3.2},{"lat":-39,"lon0":-36,"lon1":-30,"sn":4},{"lat":-39,"lon0":-30,"lon1":-24,"sn":5.5},{"lat":-39,"lon0":-24,"lon1":-12,"sn":7.8},{"lat":-39,"lon0":-12,"lon1":-6,"sn":10.5},{"lat":-39,"lon0":-6,"lon1":0,"sn":12},{"lat":-39,"lon0":0,"lon1":6,"sn":14},{"lat":-39,"lon0":6,"lon1":12,"sn":14.5},{"lat":-39,"lon0":12,"lon1":18,"sn":13},{"lat":-39,"lon0":18,"lon1":24,"sn":10},{"lat":-39,"lon0":24,"lon1":36,"sn":12},{"lat":-39,"lon0":36,"lon1":48,"sn":11.5},{"lat":-39,"lon0":48,"lon1":54,"sn":9.8},{"lat":-39,"lon0":54,"lon1":66,"sn":8.7},{"lat":-39,"lon0":66,"lon1":72,"sn":8.3},{"lat":-39,"lon0":72,"lon1":84,"sn":10},{"lat":-39,"lon0":84,"lon1":90,"sn":11},{"lat":-39,"lon0":90,"lon1":102,"sn":10},{"lat":-39,"lon0":102,"lon1":108,"sn":9.5},{"lat":-39,"lon0":108,"lon1":132,"sn":8.9},{"lat":-39,"lon0":132,"lon1":150,"sn":5.6},{"lat":-39,"lon0":150,"lon1":168,"sn":7.3},{"lat":-39,"lon0":168,"lon1":180,"sn":9.5},
{"lat":-45,"lon0":-180,"lon1":-168,"sn":13},{"lat":-45,"lon0":-168,"lon1":-156,"sn":11},{"lat":-45,"lon0":-156,"lon1":-144,"sn":9.5},{"lat":-45,"lon0":-144,"lon1":-132,"sn":7.8},{"lat":-45,"lon0":-132,"lon1":-120,"sn":6},{"lat":-45,"lon0":-120,"lon1":-108,"sn":7.1},{"lat":-45,"lon0":-108,"lon1":-96,"sn":9.1},{"lat":-45,"lon0":-96,"lon1":-78,"sn":10},{"lat":-45,"lon0":-78,"lon1":-72,"sn":9.5},{"lat":-45,"lon0":-72,"lon1":-66,"sn":6},{"lat":-45,"lon0":-66,"lon1":-60,"sn":9.1},{"lat":-45,"lon0":-60,"lon1":-54,"sn":9.8},{"lat":-45,"lon0":-54,"lon1":-48,"sn":6.8},{"lat":-45,"lon0":-48,"lon1":-36,"sn":3.3},{"lat":-45,"lon0":-36,"lon1":-30,"sn":4.5},{"lat":-45,"lon0":-30,"lon1":-24,"sn":6},{"lat":-45,"lon0":-24,"lon1":-12,"sn":8.3},{"lat":-45,"lon0":-12,"lon1":-6,"sn":9.5},{"lat":-45,"lon0":-6,"lon1":0,"sn":11.5},{"lat":-45,"lon0":0,"lon1":12,"sn":13},{"lat":-45,"lon0":12,"lon1":18,"sn":10.5},{"lat":-45,"lon0":18,"lon1":24,"sn":9.8},{"lat":-45,"lon0":24,"lon1":48,"sn":11},{"lat":-45,"lon0":48,"lon1":66,"sn":10},{"lat":-45,"lon0":66,"lon1":72,"sn":8.7},{"lat":-45,"lon0":72,"lon1":84,"sn":10},{"lat":-45,"lon0":84,"lon1":90,"sn":11.5},{"lat":-45,"lon0":90,"lon1":102,"sn":10.5},{"lat":-45,"lon0":102,"lon1":132,"sn":9.9},{"lat":-45,"lon0":132,"lon1":156,"sn":6},{"lat":-45,"lon0":156,"lon1":168,"sn":7.8},{"lat":-45,"lon0":168,"lon1":180,"sn":9.1},
{"lat":-51,"lon0":-180,"lon1":-168,"sn":12},{"lat":-51,"lon0":-168,"lon1":-156,"sn":13.5},{"lat":-51,"lon0":-156,"lon1":-144,"sn":10},{"lat":-51,"lon0":-144,"lon1":-132,"sn":9.1},{"lat":-51,"lon0":-132,"lon1":-114,"sn":7.8},{"lat":-51,"lon0":-114,"lon1":-96,"sn":7},{"lat":-51,"lon0":-96,"lon1":-78,"sn":10},{"lat":-51,"lon0":-78,"lon1":-72,"sn":11.5},{"lat":-51,"lon0":-72,"lon1":-60,"sn":10},{"lat":-51,"lon0":-60,"lon1":-48,"sn":9.5},{"lat":-51,"lon0":-48,"lon1":-42,"sn":6.8},{"lat":-51,"lon0":-42,"lon1":-30,"sn":5.5},{"lat":-51,"lon0":-30,"lon1":-18,"sn":6.8},{"lat":-51,"lon0":-18,"lon1":-12,"sn":8.3},{"lat":-51,"lon0":-12,"lon1":-6,"sn":9.5},{"lat":-51,"lon0":-6,"lon1":6,"sn":10.5},{"lat":-51,"lon0":6,"lon1":12,"sn":14},{"lat":-51,"lon0":12,"lon1":18,"sn":12},{"lat":-51,"lon0":18,"lon1":30,"sn":9.5},{"lat":-51,"lon0":30,"lon1":42,"sn":10.5},{"lat":-51,"lon0":42,"lon1":60,"sn":13},{"lat":-51,"lon0":60,"lon1":72,"sn":10.5},{"lat":-51,"lon0":72,"lon1":84,"sn":9.5},{"lat":-51,"lon0":84,"lon1":90,"sn":10},{"lat":-51,"lon0":90,"lon1":102,"sn":12.5},{"lat":-51,"lon0":102,"lon1":114,"sn":13.5},{"lat":-51,"lon0":114,"lon1":126,"sn":10.5},{"lat":-51,"lon0":126,"lon1":138,"sn":9.8},{"lat":-51,"lon0":138,"lon1":144,"sn":7.3},{"lat":-51,"lon0":144,"lon1":156,"sn":4.5},{"lat":-51,"lon0":156,"lon1":168,"sn":7.3},{"lat":-51,"lon0":168,"lon1":180,"sn":9.5},
{"lat":-57,"lon0":-180,"lon1":-168,"sn":11.5},{"lat":-57,"lon0":-168,"lon1":-144,"sn":10},{"lat":-57,"lon0":-144,"lon1":-126,"sn":9.5},{"lat":-57,"lon0":-126,"lon1":-114,"sn":7.8},{"lat":-57,"lon0":-114,"lon1":-102,"sn":8.3},{"lat":-57,"lon0":-102,"lon1":-84,"sn":13},{"lat":-57,"lon0":-84,"lon1":-78,"sn":14},{"lat":-57,"lon0":-78,"lon1":-72,"sn":11.5},{"lat":-57,"lon0":-72,"lon1":-60,"sn":9.8},{"lat":-57,"lon0":-60,"lon1":-48,"sn":8.7},{"lat":-57,"lon0":-48,"lon1":-30,"sn":6.8},{"lat":-57,"lon0":-30,"lon1":-24,"sn":7.3},{"lat":-57,"lon0":-24,"lon1":-12,"sn":9.1},{"lat":-57,"lon0":-12,"lon1":-6,"sn":10},{"lat":-57,"lon0":-6,"lon1":6,"sn":11},{"lat":-57,"lon0":6,"lon1":18,"sn":14.5},{"lat":-57,"lon0":18,"lon1":30,"sn":9.5},{"lat":-57,"lon0":30,"lon1":48,"sn":9.8},{"lat":-57,"lon0":48,"lon1":60,"sn":11.5},{"lat":-57,"lon0":60,"lon1":72,"sn":12},{"lat":-57,"lon0":72,"lon1":84,"sn":9.5},{"lat":-57,"lon0":84,"lon1":90,"sn":10},{"lat":-57,"lon0":90,"lon1":96,"sn":11},{"lat":-57,"lon0":96,"lon1":108,"sn":15},{"lat":-57,"lon0":108,"lon1":114,"sn":10},{"lat":-57,"lon0":114,"lon1":132,"sn":9.5},{"lat":-57,"lon0":132,"lon1":156,"sn":7.8},{"lat":-57,"lon0":156,"lon1":174,"sn":6.8},{"lat":-57,"lon0":174,"lon1":180,"sn":8.7},
{"lat":-63,"lon0":-180,"lon1":-162,"sn":10},{"lat":-63,"lon0":-162,"lon1":-144,"sn":9.8},{"lat":-63,"lon0":-144,"lon1":-126,"sn":8.3},{"lat":-63,"lon0":-126,"lon1":-108,"sn":9.1},{"lat":-63,"lon0":-108,"lon1":-96,"sn":15},{"lat":-63,"lon0":-96,"lon1":-90,"sn":14.5},{"lat":-63,"lon0":-90,"lon1":-84,"sn":14},{"lat":-63,"lon0":-84,"lon1":-72,"sn":10},{"lat":-63,"lon0":-72,"lon1":-54,"sn":9.5},{"lat":-63,"lon0":-54,"lon1":-18,"sn":7.8},{"lat":-63,"lon0":-18,"lon1":-6,"sn":9.8},{"lat":-63,"lon0":-6,"lon1":0,"sn":15},{"lat":-63,"lon0":0,"lon1":6,"sn":13},{"lat":-63,"lon0":6,"lon1":18,"sn":14.5},{"lat":-63,"lon0":18,"lon1":36,"sn":9.8},{"lat":-63,"lon0":36,"lon1":60,"sn":10.5},{"lat":-63,"lon0":60,"lon1":78,"sn":9.5},{"lat":-63,"lon0":78,"lon1":96,"sn":10},{"lat":-63,"lon0":96,"lon1":102,"sn":12},{"lat":-63,"lon0":102,"lon1":120,"sn":15},{"lat":-63,"lon0":120,"lon1":126,"sn":10},{"lat":-63,"lon0":126,"lon1":144,"sn":8.7},{"lat":-63,"lon0":144,"lon1":162,"sn":5},{"lat":-63,"lon0":162,"lon1":180,"sn":7.3},
{"lat":-69,"lon0":-180,"lon1":-150,"sn":11.5},{"lat":-69,"lon0":-150,"lon1":-120,"sn":13},{"lat":-69,"lon0":-120,"lon1":-114,"sn":10},{"lat":-69,"lon0":-114,"lon1":-108,"sn":11},{"lat":-69,"lon0":-108,"lon1":-96,"sn":14.5},{"lat":-69,"lon0":-96,"lon1":-78,"sn":15.5},{"lat":-69,"lon0":-78,"lon1":-66,"sn":11},{"lat":-69,"lon0":-66,"lon1":-48,"sn":9.5},{"lat":-69,"lon0":-48,"lon1":-42,"sn":7.8},{"lat":-69,"lon0":-42,"lon1":-24,"sn":6.8},{"lat":-69,"lon0":-24,"lon1":-6,"sn":9.5},{"lat":-69,"lon0":-6,"lon1":6,"sn":11},{"lat":-69,"lon0":6,"lon1":24,"sn":10},{"lat":-69,"lon0":24,"lon1":66,"sn":9.5},{"lat":-69,"lon0":66,"lon1":78,"sn":9.1},{"lat":-69,"lon0":78,"lon1":96,"sn":12},{"lat":-69,"lon0":96,"lon1":108,"sn":15},{"lat":-69,"lon0":108,"lon1":126,"sn":17.5},{"lat":-69,"lon0":126,"lon1":138,"sn":11},{"lat":-69,"lon0":138,"lon1":156,"sn":7.8},{"lat":-69,"lon0":156,"lon1":180,"sn":4.5},
{"lat":-75,"lon0":-180,"lon1":-138,"sn":10},{"lat":-75,"lon0":-138,"lon1":-108,"sn":12},{"lat":-75,"lon0":-108,"lon1":-84,"sn":15.5},{"lat":-75,"lon0":-84,"lon1":-66,"sn":12},{"lat":-75,"lon0":-66,"lon1":-48,"sn":8.7},{"lat":-75,"lon0":-48,"lon1":-30,"sn":5},{"lat":-75,"lon0":-30,"lon1":-12,"sn":8.3},{"lat":-75,"lon0":-12,"lon1":0,"sn":9.5},{"lat":-75,"lon0":0,"lon1":24,"sn":11},{"lat":-75,"lon0":24,"lon1":48,"sn":9.5},{"lat":-75,"lon0":48,"lon1":78,"sn":8.7},{"lat":-75,"lon0":78,"lon1":90,"sn":9.5},{"lat":-75,"lon0":90,"lon1":114,"sn":15},{"lat":-75,"lon0":114,"lon1":132,"sn":14},{"lat":-75,"lon0":132,"lon1":144,"sn":10},{"lat":-75,"lon0":144,"lon1":156,"sn":8.7},{"lat":-75,"lon0":156,"lon1":180,"sn":5},
{"lat":-81,"lon0":-180,"lon1":-150,"sn":10},{"lat":-81,"lon0":-150,"lon1":-96,"sn":12},{"lat":-81,"lon0":-96,"lon1":-60,"sn":11},{"lat":-81,"lon0":-60,"lon1":-30,"sn":6.8},{"lat":-81,"lon0":-30,"lon1":-18,"sn":8.7},{"lat":-81,"lon0":-18,"lon1":24,"sn":9.8},{"lat":-81,"lon0":24,"lon1":48,"sn":9.5},{"lat":-81,"lon0":48,"lon1":102,"sn":7.8},{"lat":-81,"lon0":102,"lon1":138,"sn":19},{"lat":-81,"lon0":138,"lon1":168,"sn":12},{"lat":-81,"lon0":168,"lon1":180,"sn":8.7},
{"lat":-87,"lon0":-180,"lon1":-60,"sn":9.5},{"lat":-87,"lon0":-60,"lon1":60,"sn":8.7},{"lat":-87,"lon0":60,"lon1":180,"sn":9.5}
]},"transform":[{"calculate":"abs(datum.lat+3)","as":"eTop"},{"calculate":"abs(datum.lat-3)","as":"eBot"},{"lookup":"eTop","from":{"data":{"name":"edges"},"key":"lat","fields":["s","c"]},"as":["sT","cT"]},{"lookup":"eBot","from":{"data":{"name":"edges"},"key":"lat","fields":["s","c"]},"as":["sB","cB"]},{"calculate":"datum.lat>0?0.5:-0.5","as":"h"},{"calculate":"abs(datum.lon0)==180?datum.lon0:datum.lon0+1.6","as":"l0"},{"calculate":"abs(datum.lon1)==180?datum.lon1:datum.lon1+1.6","as":"l1"},{"calculate":"{type:'Feature',properties:{},geometry:{type:'Polygon',coordinates:[[[datum.l0/180*datum.cT-0.0015,datum.h*datum.sT+0.0015],[datum.l1/180*datum.cT,datum.h*datum.sT+0.0015],[datum.l1/180*datum.cB,datum.h*datum.sB],[datum.l0/180*datum.cB-0.0015,datum.h*datum.sB],[datum.l0/180*datum.cT-0.0015,datum.h*datum.sT+0.0015]]]}}","as":"geo"}],"mark":{"type":"geoshape","clip":false},"encoding":{"shape":{"field":"geo","type":"geojson"},"color":{"field":"sn","type":"quantitative","scale":{"domain":[0,5,10,15.5,20.2],"range":["#0000ff","#00ffff","#00ff00","#ffff00","#ff0000"]},"legend":{"type":"gradient","orient":"none","legendX":0,"legendY":480,"direction":"horizontal","gradientLength":864,"gradientThickness":18,"gradientStrokeColor":"#ffffff","gradientStrokeWidth":1,"values":[0,5,10,15,20],"title":"S/N Ratio 4.29 keV at 1 A.U. [ECLIPJ2000]","titleLimit":800,"titleColor":"#ffffff","titleFont":"Liberation Serif","titleFontSize":17.5,"titleFontWeight":"bold","titleAnchor":"middle","titlePadding":26,"labelColor":"#ffffff","labelFont":"Liberation Serif","labelFontSize":17,"labelFontWeight":"bold","labelOverlap":false,"labelAlign":"center","labelOffset":14}}}},{"data":{"values":[{"m":-160.4},{"m":-130.4},{"m":-100.4},{"m":-70.4},{"m":-40.4},{"m":-10.4},{"m":19.6},{"m":49.6},{"m":79.6},{"m":109.6},{"m":139.6},{"m":169.6}]},"transform":[{"calculate":"[-90,-78,-66,-54,-42,-30,-18,-6,6,18,30,42,54,66,78,90]","as":"lat"},{"flatten":["lat"]},{"calculate":"abs(datum.lat)","as":"e"},{"lookup":"e","from":{"data":{"name":"edges"},"key":"lat","fields":["s","c"]}},{"calculate":"datum.m/180*datum.c","as":"u"},{"calculate":"(datum.lat>0?0.5:-0.5)*datum.s","as":"v"}],"mark":{"type":"line","color":"#05705a","strokeDash":[1,3],"strokeWidth":1,"clip":false},"encoding":{"longitude":{"field":"u","type":"quantitative"},"latitude":{"field":"v","type":"quantitative"},"detail":{"field":"m"},"order":{"field":"lat","type":"quantitative"}}},{"data":{"values":[{"g":"0","u":-0.995,"v":0.039},{"g":"0","u":-0.725,"v":0.032},{"g":"0","u":-0.56,"v":0.019},{"g":"0","u":-0.394,"v":-0.002},{"g":"0","u":-0.225,"v":-0.016},{"g":"0","u":0,"v":-0.023},{"g":"0","u":0.109,"v":-0.023},{"g":"0","u":0.275,"v":-0.014},{"g":"0","u":0.442,"v":0.005},{"g":"0","u":0.606,"v":0.023},{"g":"0","u":0.773,"v":0.035},{"g":"0","u":0.995,"v":0.037},{"g":"30","u":-0.88,"v":0.234},{"g":"30","u":-0.641,"v":0.225},{"g":"30","u":-0.486,"v":0.211},{"g":"30","u":-0.363,"v":0.194},{"g":"30","u":-0.201,"v":0.178},{"g":"30","u":0.116,"v":0.174},{"g":"30","u":0.331,"v":0.19},{"g":"30","u":0.4,"v":0.199},{"g":"30","u":0.595,"v":0.222},{"g":"30","u":0.718,"v":0.231},{"g":"30","u":0.88,"v":0.234},{"g":"60","u":-0.562,"v":0.41},{"g":"60","u":-0.34,"v":0.391},{"g":"60","u":-0.139,"v":0.361},{"g":"60","u":0.039,"v":0.359},{"g":"60","u":0.192,"v":0.363},{"g":"60","u":0.285,"v":0.38},{"g":"60","u":0.44,"v":0.398},{"g":"60","u":0.556,"v":0.407},{"g":"-30","u":-0.933,"v":-0.169},{"g":"-30","u":-0.688,"v":-0.178},{"g":"-30","u":-0.556,"v":-0.188},{"g":"-30","u":-0.377,"v":-0.206},{"g":"-30","u":-0.123,"v":-0.225},{"g":"-30","u":0.116,"v":-0.229},{"g":"-30","u":0.34,"v":-0.215},{"g":"-30","u":0.556,"v":-0.194},{"g":"-30","u":0.771,"v":-0.171},{"g":"-30","u":0.942,"v":-0.169},{"g":"-60","u":-0.694,"v":-0.352},{"g":"-60","u":-0.363,"v":-0.373},{"g":"-60","u":-0.155,"v":-0.4},{"g":"-60","u":0.039,"v":-0.405},{"g":"-60","u":0.231,"v":-0.389},{"g":"-60","u":0.44,"v":-0.368},{"g":"-60","u":0.694,"v":-0.352}]},"mark":{"type":"line","color":"#05705a","strokeDash":[1,3],"strokeWidth":1,"clip":false},"encoding":{"longitude":{"field":"u","type":"quantitative"},"latitude":{"field":"v","type":"quantitative"},"detail":{"field":"g"},"order":{"field":"u","type":"quantitative"}}},{"data":{"values":[{"m":-180},{"m":180}]},"transform":[{"calculate":"[-90,-84,-78,-72,-66,-60,-54,-48,-42,-36,-30,-24,-18,-12,-6,0,6,12,18,24,30,36,42,48,54,60,66,72,78,84,90]","as":"lat"},{"flatten":["lat"]},{"calculate":"abs(datum.lat)","as":"e"},{"lookup":"e","from":{"data":{"name":"edges"},"key":"lat","fields":["s","c"]}},{"calculate":"datum.m/180*datum.c","as":"u"},{"calculate":"(datum.lat>0?0.5:-0.5)*datum.s","as":"v"}],"mark":{"type":"line","color":"#ffffff","strokeWidth":1.2,"clip":false},"encoding":{"longitude":{"field":"u","type":"quantitative"},"latitude":{"field":"v","type":"quantitative"},"detail":{"field":"m"},"order":{"field":"lat","type":"quantitative"}}},{"data":{"values":[{"tick":5,"v":-0.708},{"tick":5,"v":-0.75},{"tick":10,"v":-0.708},{"tick":10,"v":-0.75},{"tick":15,"v":-0.708},{"tick":15,"v":-0.75},{"tick":20,"v":-0.708},{"tick":20,"v":-0.75}]},"transform":[{"calculate":"-1+datum.tick*0.09907","as":"u"}],"mark":{"type":"line","color":"#ffffff","strokeWidth":1,"clip":false},"encoding":{"longitude":{"field":"u","type":"quantitative"},"latitude":{"field":"v","type":"quantitative"},"detail":{"field":"tick"}}},{"data":{"values":[{"t":"60","u":-0.891,"v":0.044},{"t":"30","u":-0.725,"v":0.035},{"t":"0","u":-0.56,"v":0.019},{"t":"-30","u":-0.394,"v":0},{"t":"-60","u":-0.225,"v":-0.014},{"t":"-90","u":-0.058,"v":-0.021},{"t":"-120","u":0.109,"v":-0.021},{"t":"-150","u":0.275,"v":-0.012},{"t":"180","u":0.442,"v":0.005},{"t":"150","u":0.606,"v":0.023},{"t":"120","u":0.773,"v":0.037},{"t":"90","u":0.938,"v":0.046},{"t":"90","u":0.002,"v":0.502},{"t":"60","u":-0.326,"v":0.396},{"t":"30","u":-0.495,"v":0.22},{"t":"-30","u":-0.528,"v":-0.183},{"t":"-60","u":-0.4,"v":-0.363},{"t":"-90","u":-0.201,"v":-0.477}]},"mark":{"type":"text","baseline":"middle","align":"center","color":"#05705a","fontSize":15,"font":"Liberation Serif","clip":false},"encoding":{"longitude":{"field":"u","type":"quantitative"},"latitude":{"field":"v","type":"quantitative"},"text":{"field":"t"}}},{"data":{"values":[{"t":"V1","u":0.028,"v":0.234},{"t":"Nose","u":0.021,"v":0.032},{"t":"V2","u":-0.148,"v":-0.208},{"t":"Tail","u":1.014,"v":0.032}]},"mark":{"type":"text","baseline":"middle","align":"center","color":"#c01f30","fontSize":15,"font":"Liberation Serif","clip":false},"encoding":{"longitude":{"field":"u","type":"quantitative"},"latitude":{"field":"v","type":"quantitative"},"text":{"field":"t"}}},{"data":{"values":[{"u":0.021,"v":0.204},{"u":0,"v":0.002},{"u":-0.153,"v":-0.241},{"u":1,"v":0.002}]},"mark":{"type":"point","shape":"square","filled":true,"color":"#c01f30","size":25,"opacity":1,"clip":false},"encoding":{"longitude":{"field":"u","type":"quantitative"},"latitude":{"field":"v","type":"quantitative"}}},{"data":{"values":[{"t":"IBEX SOC","u":-1.093,"v":0.706},{"t":"Feb\u00a0 5 21:25:17 2014","u":0.741,"v":-0.88}]},"mark":{"type":"text","baseline":"middle","align":"left","color":"#ffffff","fontSize":17,"fontWeight":"bold","font":"Liberation Serif","clip":false},"encoding":{"longitude":{"field":"u","type":"quantitative"},"latitude":{"field":"v","type":"quantitative"},"text":{"field":"t"}}},{"data":{"values":[{"t":"S/N\u00a0 60d: hv60 hide trp 4.29 keV","u":0,"v":0.609}]},"mark":{"type":"text","baseline":"middle","align":"center","color":"#ffffff","fontSize":33,"font":"Liberation Serif","clip":false},"encoding":{"longitude":{"field":"u","type":"quantitative"},"latitude":{"field":"v","type":"quantitative"},"text":{"field":"t"}}}]}
